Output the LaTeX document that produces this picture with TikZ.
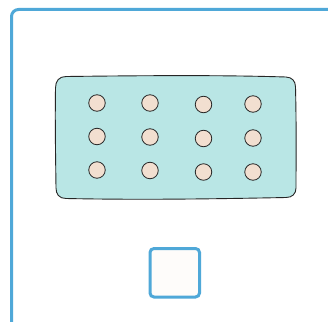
\documentclass[tikz,border=0pt]{standalone}
\begin{document}
\begin{tikzpicture}[x=1pt,y=-1pt,
  frame/.style={draw=framecol,line width=3pt,rounded corners=7pt},
  box/.style={draw=black!85,line width=0.9pt,fill=tealfill},
  dot/.style={circle,draw=black!85,line width=0.8pt,fill=dotfill,minimum size=16.5pt,inner sep=0pt},
  sq/.style={draw=framecol,line width=3pt,fill=sqfill,rounded corners=4pt}]
\definecolor{framecol}{HTML}{4FA8D8}
\definecolor{tealfill}{HTML}{B9E6E5}
\definecolor{dotfill}{HTML}{F2DFD0}
\definecolor{sqfill}{HTML}{FEFCFA}
\useasboundingbox[fill=white] (0,0) rectangle (328,321);
\clip (0,0) rectangle (328,321);
\draw[frame] (11.5,345) -- (11.5,9.5) -- (345,9.5);
\path[box] (66,76.5) .. controls (150,75.5) and (220,75) .. (286,77)
  .. controls (292,77.3) and (295.5,81) .. (295.5,87)
  .. controls (296.5,130) and (296,160) .. (296,188)
  .. controls (296,194) and (292,197.5) .. (286,197.5)
  .. controls (210,199) and (140,200) .. (66,198.5)
  .. controls (59,198.5) and (56,194) .. (56,188)
  .. controls (55.5,150) and (55,120) .. (55.5,88)
  .. controls (55.5,81) and (59,76.5) .. (66,76.5) -- cycle;
\node[dot] (a1) at (97,103) {};
\node[dot] (a2) at (150,103) {};
\node[dot] (a3) at (203.5,104.5) {};
\node[dot] (a4) at (253,104) {};
\node[dot] (b1) at (97,136.5) {};
\node[dot] (b2) at (150,137) {};
\node[dot] (b3) at (203.5,138.5) {};
\node[dot] (b4) at (253,138) {};
\node[dot] (c1) at (97,170) {};
\node[dot] (c2) at (150,170.5) {};
\node[dot] (c3) at (203.5,172) {};
\node[dot] (c4) at (253,172) {};
\draw[sq] (150,248.5) rectangle (199.5,297);
\end{tikzpicture}
\end{document}
